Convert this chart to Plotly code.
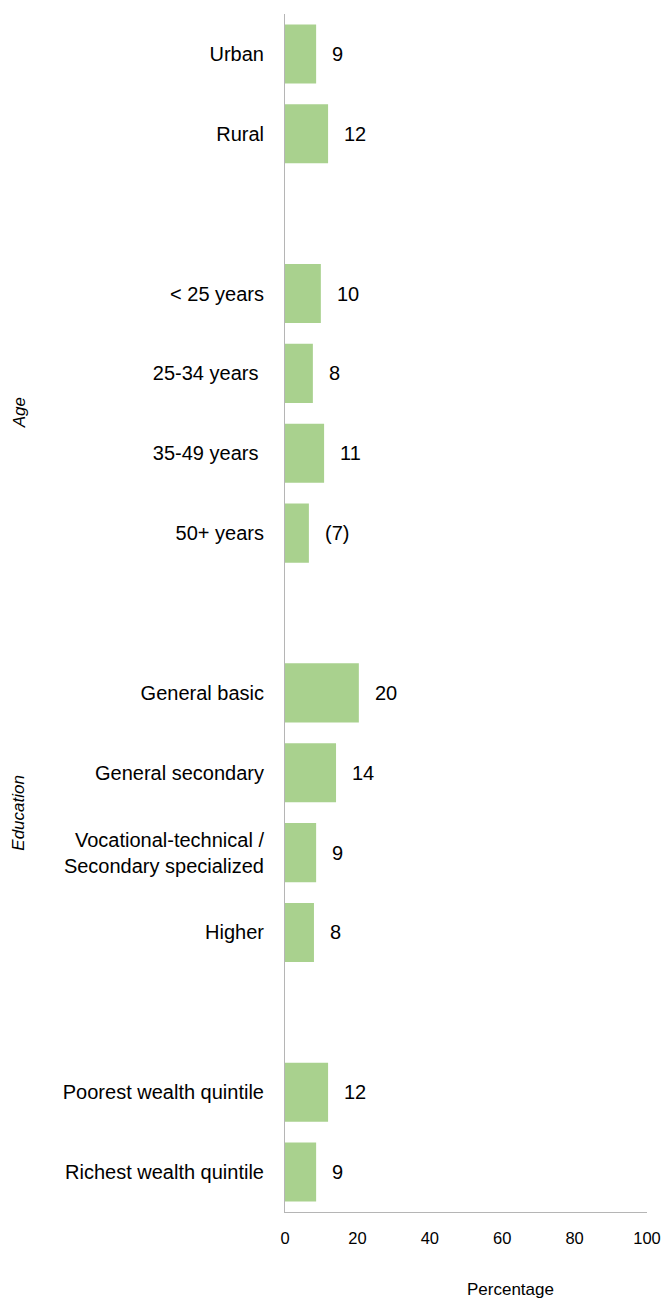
import plotly.graph_objects as go

categories = ["Urban", "Rural", "", "< 25 years", "25-34 years\u00a0", "35-49 years\u00a0", "50+ years", "",
              "General basic", "General secondary", "Vocational-technical /<br>Secondary specialized", "Higher", "",
              "Poorest wealth quintile", "Richest wealth quintile"]
values = [8.6, 11.9, None, 9.9, 7.7, 10.8, 6.6, None, 20.4, 14.1, 8.6, 8.0, None, 11.9, 8.6]
value_labels = ["9", "12", "", "10", "8", "11", "(7)", "", "20", "14", "9", "8", "", "12", "9"]
group_titles = ["Age", "Education"]
group_centers = [4.5, 9.5]
x_ticks = [0, 20, 40, 60, 80, 100]

positions = list(range(len(categories)))
bar_y = [p for p, v in zip(positions, values) if v is not None]
bar_x = [v for v in values if v is not None]
bar_txt = [t for t, v in zip(value_labels, values) if v is not None]

FONT = "Liberation Sans, Arial, sans-serif"

fig = go.Figure()
fig.add_trace(go.Bar(x=bar_x, y=bar_y, orientation="h", width=0.74,
                     marker=dict(color="#a9d18e", line=dict(width=0)),
                     hoverinfo="skip"))

annotations = []
for x, y, t in zip(bar_x, bar_y, bar_txt):
    annotations.append(dict(x=x, y=y, xref="x", yref="y", text=t, showarrow=False,
                            xanchor="left", yanchor="middle", xshift=14,
                            font=dict(family=FONT, size=20, color="#000000")))
for t, c in zip(group_titles, group_centers):
    annotations.append(dict(x=(19 - 285) / 362, y=c, xref="paper", yref="y", text="<i>" + t + "</i>",
                            showarrow=False, textangle=-90, xanchor="center", yanchor="middle",
                            font=dict(family=FONT, size=17, color="#000000")))
annotations.append(dict(x=(510 - 285) / 362, y=-(1289 - 1212) / (1212 - 14), xref="paper", yref="paper",
                        text="Percentage", showarrow=False, xanchor="center", yanchor="middle",
                        font=dict(family=FONT, size=17, color="#000000")))

fig.update_layout(
    width=665, height=1302,
    margin=dict(l=285, r=18, t=14, b=90, autoexpand=False),
    paper_bgcolor="white", plot_bgcolor="white",
    showlegend=False,
    annotations=annotations,
    xaxis=dict(range=[0, 100], tickvals=x_ticks, ticktext=[str(v) for v in x_ticks],
               showgrid=False, zeroline=False, showline=True, linecolor="#b5b5b5", linewidth=1,
               ticks="", ticklabelstandoff=11, automargin=False,
               tickfont=dict(family=FONT, size=16.5, color="#000000")),
    yaxis=dict(range=[14.5, -0.5], tickvals=positions, ticktext=categories,
               showgrid=False, zeroline=False, showline=True, linecolor="#b5b5b5", linewidth=1,
               ticks="", ticklabelstandoff=16, automargin=False,
               tickfont=dict(family=FONT, size=20, color="#000000")),
)

fig.write_html("out.html")
